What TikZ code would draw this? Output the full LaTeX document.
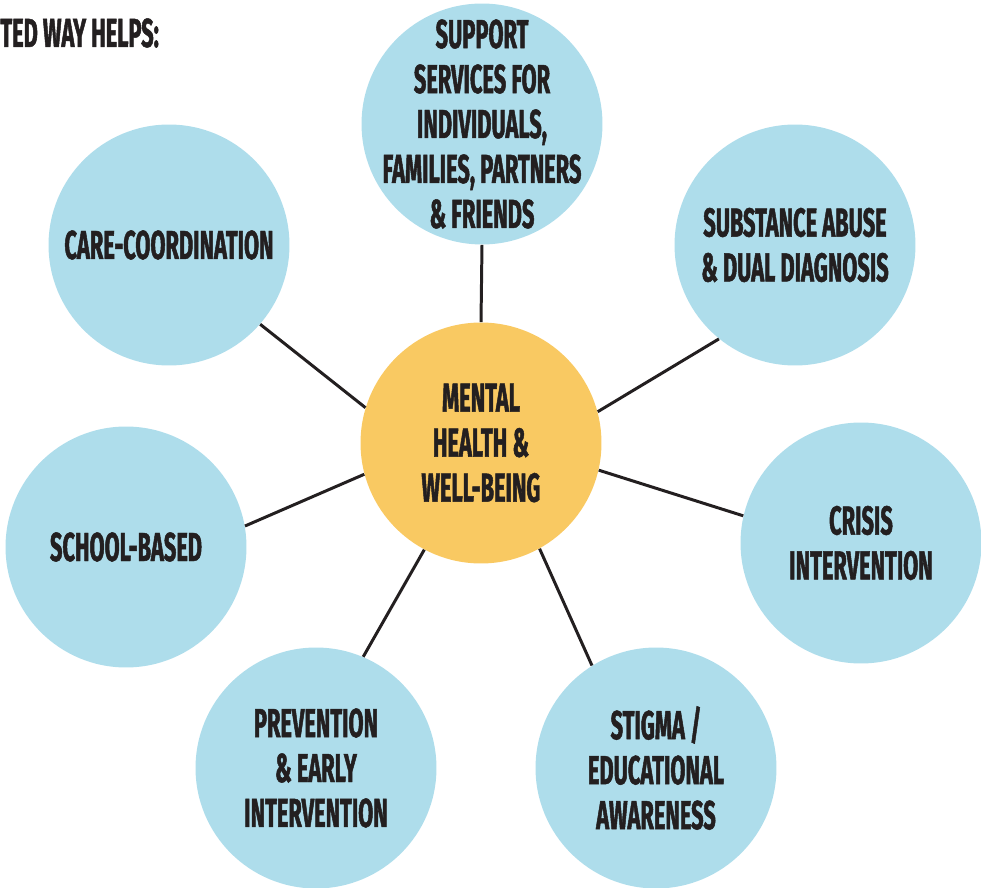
\documentclass[tikz,border=0pt]{standalone}
\usepackage{fontspec}
\newfontfamily\diagfont{Fira Sans}[FakeStretch=0.54,FakeBold=1.2]
\usepackage{tikz}
\definecolor{circblue}{RGB}{174,221,235}
\definecolor{hubyellow}{RGB}{249,201,98}
\definecolor{inkdark}{RGB}{35,31,32}

\begin{document}
\begin{tikzpicture}[x=0.02cm, y=-0.02cm,
		hub_style/.style={circle,fill=hubyellow,minimum size=4.82cm,inner sep=-0.6cm,align=center,text=inkdark,font=\diagfont\bfseries\fontsize{23}{25.6}\selectfont},
		topic_style/.style={hub_style,fill=circblue},
		edge_style/.style={draw=inkdark,line width=1.7pt}]
		
		\useasboundingbox (0,0) rectangle (981,888);
		
		\node[anchor=base west,inner sep=0pt,text=inkdark,font=\diagfont\bfseries\fontsize{23}{25.6}\selectfont] (title) at (0,47) {TED WAY HELPS:};
		
		\node[hub_style] (hub) at (481,443) {MENTAL\\HEALTH \&\\WELL-BEING};
		\node[topic_style] (support) at (482,124) {SUPPORT\\SERVICES FOR\\INDIVIDUALS,\\FAMILIES, PARTNERS\\\& FRIENDS};
		\node[topic_style] (substance) at (795,245) {SUBSTANCE ABUSE\\\& DUAL DIAGNOSIS};
		\node[topic_style] (crisis) at (861,543) {CRISIS\\INTERVENTION};
		\node[topic_style] (stigma) at (656,768) {STIGMA /\\EDUCATIONAL\\AWARENESS};
		\node[topic_style] (prevention) at (316,768) {PREVENTION\\\& EARLY\\INTERVENTION};
		\node[topic_style] (school) at (126,547) {SCHOOL-BASED};
		\node[topic_style] (care) at (169,245) {CARE-COORDINATION};
		
		\draw[edge_style] (support.-90) -- (hub.90);
		\draw[edge_style] (substance.-129) -- (hub.15);
		\draw[edge_style] (crisis.167) -- (hub.-13);
		\draw[edge_style] (stigma.122) -- (hub.-61);
		\draw[edge_style] (prevention.67) -- (hub.-118);
		\draw[edge_style] (school.10) -- (hub.195);
		\draw[edge_style] (care.-41) -- (hub.163);
		
\end{tikzpicture}
\end{document}
